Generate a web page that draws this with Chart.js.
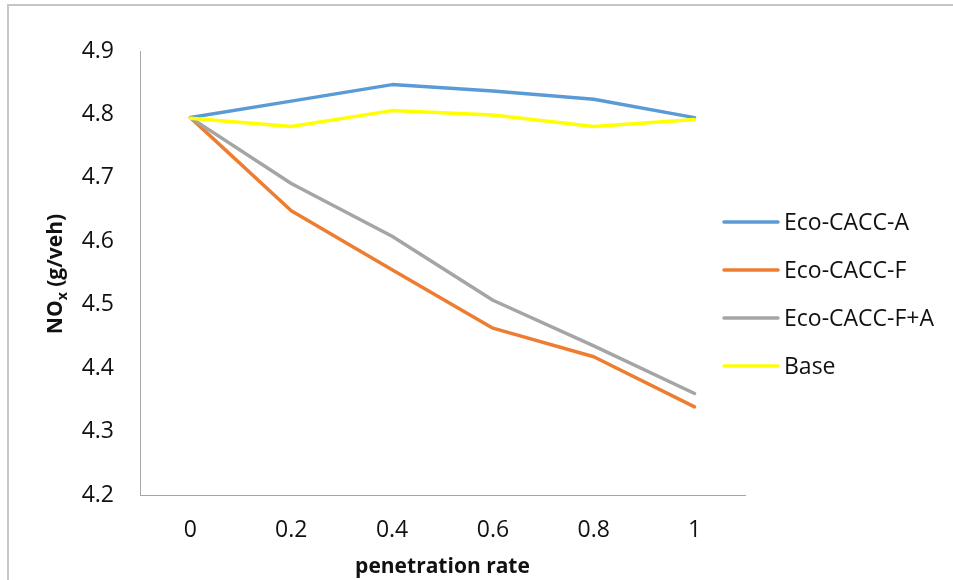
<!DOCTYPE html>
<html>
<head>
<meta charset="utf-8">
<title>NOx emissions vs penetration rate</title>
<script src="https://cdn.jsdelivr.net/npm/chart.js@4/dist/chart.umd.min.js"></script>
<style>
  html, body { margin: 0; padding: 0; background: #fff; }
  body { width: 953px; height: 580px; position: relative; overflow: hidden; }
  #frame {
    position: absolute; left: 7px; top: 4px; width: 1000px; height: 700px;
    border-top: 2px solid #c6c6c6; border-left: 2px solid #c6c6c6;
  }
  #wrap { position: absolute; left: 0; top: 0; width: 953px; height: 580px; }
</style>
</head>
<body>
<div id="frame"></div>
<div id="wrap"><canvas id="chart" width="953" height="580"></canvas></div>
<script>
// Penetration rate categories
const categories = ['0', '0.2', '0.4', '0.6', '0.8', '1'];

// NOx emission per vehicle (g/veh) for each strategy
const ecoCaccA  = [4.795, 4.821, 4.847, 4.837, 4.824, 4.795];
const ecoCaccF  = [4.795, 4.648, 4.555, 4.463, 4.418, 4.339];
const ecoCaccFA = [4.795, 4.691, 4.608, 4.507, 4.435, 4.360];
const base      = [4.794, 4.781, 4.806, 4.799, 4.781, 4.792];

const seriesNames = ['Eco-CACC-A', 'Eco-CACC-F', 'Eco-CACC-F+A', 'Base'];
const seriesColors = ['#5B9BD5', '#ED7D31', '#A5A5A5', '#FFFF00'];

// Y axis range and tick step
const yMin = 4.2, yMax = 4.9, yStep = 0.1;

const FONT = "'Open Sans', 'Liberation Sans', sans-serif";

function lineDataset(label, data, color, order) {
  return {
    label, data,
    borderColor: color, backgroundColor: color,
    borderWidth: 3.5, tension: 0, pointRadius: 0, pointHoverRadius: 0,
    borderJoinStyle: 'round', borderCapStyle: 'round', fill: false,
    order
  };
}

// Vertical axis title with a subscript "x" in NOx
const yTitlePlugin = {
  id: 'yTitle',
  afterDraw(chart, args, opts) {
    const ctx = chart.ctx;
    ctx.save();
    ctx.translate(opts.x, opts.y);
    ctx.rotate(-Math.PI / 2);
    ctx.fillStyle = opts.color;
    ctx.textBaseline = 'alphabetic';
    ctx.textAlign = 'left';
    const main = 'bold ' + opts.size + 'px ' + FONT;
    const sub = 'bold ' + opts.subSize + 'px ' + FONT;
    const parts = [
      { t: 'NO', f: main, dy: 0 },
      { t: 'x', f: sub, dy: opts.subShift },
      { t: ' (g/veh)', f: main, dy: 0 }
    ];
    let total = 0;
    parts.forEach(p => { ctx.font = p.f; p.w = ctx.measureText(p.t).width; total += p.w; });
    let x = -total / 2;
    parts.forEach(p => {
      ctx.font = p.f;
      ctx.fillText(p.t, x, opts.baseline + p.dy);
      x += p.w;
    });
    ctx.restore();
  }
};

// Legend drawn as line samples next to the labels, built from the datasets
const lineLegendPlugin = {
  id: 'lineLegend',
  afterDraw(chart, args, opts) {
    const ctx = chart.ctx;
    ctx.save();
    chart.data.datasets.forEach((ds, i) => {
      const y = opts.top + i * opts.spacing;
      ctx.strokeStyle = ds.borderColor;
      ctx.lineWidth = opts.lineWidth;
      ctx.lineCap = 'round';
      ctx.beginPath();
      ctx.moveTo(opts.x, y);
      ctx.lineTo(opts.x + opts.lineLength, y);
      ctx.stroke();
      ctx.fillStyle = opts.color;
      ctx.font = opts.size + 'px ' + FONT;
      ctx.textAlign = 'left';
      ctx.textBaseline = 'middle';
      ctx.fillText(ds.label, opts.x + opts.lineLength + opts.gap, y + 1);
    });
    ctx.restore();
  }
};

const chart = new Chart(document.getElementById('chart'), {
  type: 'line',
  data: {
    labels: categories,
    datasets: [
      lineDataset(seriesNames[0], ecoCaccA,  seriesColors[0], 4),
      lineDataset(seriesNames[1], ecoCaccF,  seriesColors[1], 3),
      lineDataset(seriesNames[2], ecoCaccFA, seriesColors[2], 2),
      lineDataset(seriesNames[3], base,      seriesColors[3], 1)
    ]
  },
  options: {
    responsive: false,
    animation: false,
    events: [],
    layout: { padding: { top: 51, right: 208, left: 0, bottom: 0 } },
    plugins: {
      legend: { display: false },
      tooltip: { enabled: false },
      yTitle: { x: 55, y: 274, baseline: 7, size: 21, subSize: 14, subShift: 5, color: '#111' },
      lineLegend: { x: 724, top: 222, spacing: 48, lineLength: 54, lineWidth: 3.5, gap: 6, size: 23, color: '#111' }
    },
    scales: {
      x: {
        offset: true,
        grid: { display: false, drawTicks: false },
        border: { display: true, color: '#a6a6a6', width: 1 },
        ticks: { color: '#111', font: { family: FONT, size: 23 }, padding: 22, maxRotation: 0, autoSkip: false },
        title: {
          display: true, text: 'penetration rate', color: '#111',
          font: { family: FONT, size: 21, weight: 'bold' }, padding: { top: 5, bottom: 0 }
        },
        afterFit(scale) { scale.height = 85; }
      },
      y: {
        min: yMin, max: yMax,
        grid: { display: false, drawTicks: false },
        border: { display: true, color: '#a6a6a6', width: 1 },
        ticks: {
          stepSize: yStep, color: '#111', font: { family: FONT, size: 23 }, padding: 26,
          callback: v => Number(v).toFixed(1)
        },
        afterFit(scale) { scale.width = 140; }
      }
    }
  },
  plugins: [yTitlePlugin, lineLegendPlugin]
});
</script>
</body>
</html>
